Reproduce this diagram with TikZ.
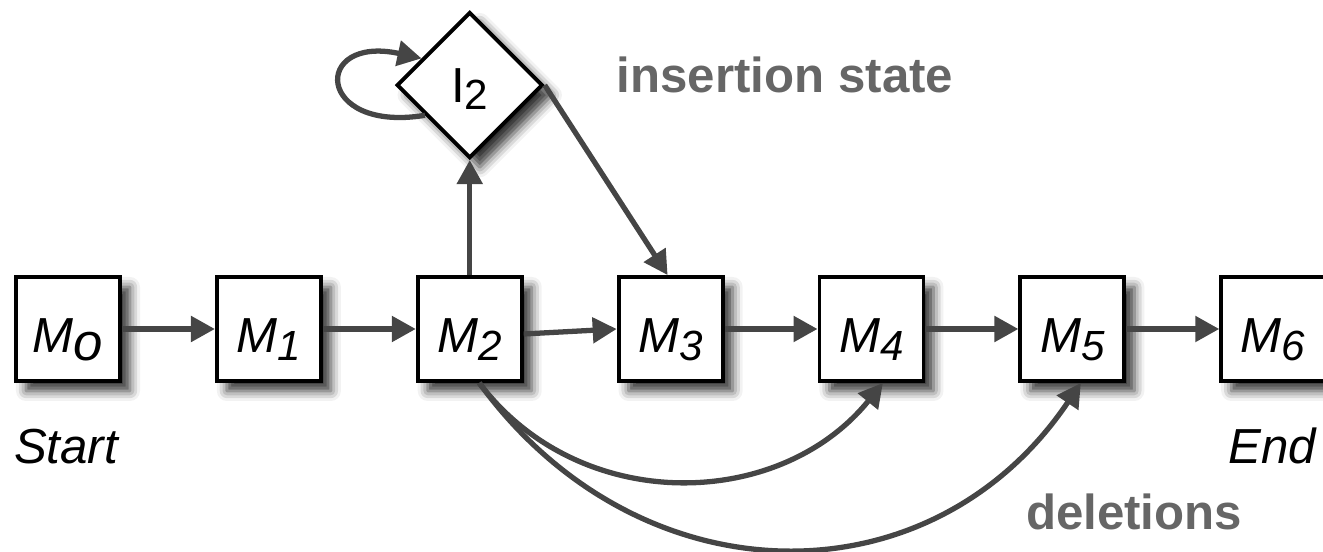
\documentclass[tikz,border=0pt]{standalone}
\usepackage{fontspec}
\setmainfont{Liberation Sans}
\usepackage{xcolor}
\usetikzlibrary{positioning}
\usetikzlibrary{shapes.geometric, arrows.meta}
\usetikzlibrary{shadows.blur}
\definecolor{arrowgray}{HTML}{454545}
\definecolor{labelgray}{HTML}{666666}
\tikzstyle{line} = [draw=arrowgray, line width=1.5pt, -{Triangle[length=2.4mm,width=2.5mm]}]
\tikzstyle{boxshadow} = [blur shadow={shadow xshift=1mm, shadow yshift=-1mm, shadow blur radius=1mm, shadow opacity=80}]
\tikzstyle{state} = [draw, line width=1.1pt, fill=white, minimum width=10.4mm, minimum height=10.4mm, inner sep=0pt, text height=5.5mm, text depth=0.7mm, font=\fontsize{14}{16}\selectfont\itshape, boxshadow]
\tikzstyle{note} = [font=\fontsize{14}{16}\selectfont\bfseries, text=labelgray, anchor=base]
\tikzstyle{tag} = [font=\fontsize{14}{16}\selectfont\itshape, anchor=base]
\newcommand{\lowsub}[2][12]{\raisebox{-2pt}{\fontsize{#1}{#1}\selectfont #2}}

\begin{document}
\begin{tikzpicture}[node distance=9.3mm]
			\useasboundingbox (0,0) rectangle (13.23,5.52);
			\node[state] at (0.68,2.23) (M0) {M\lowsub[15]{o}};
			\node[state, right=of M0] (M1) {M\lowsub{1}};
			\node[state, right=of M1] (M2) {M\lowsub{2}};
			\node[state, right=of M2] (M3) {M\lowsub{3}};
			\node[state, right=of M3] (M4) {M\lowsub{4}};
			\node[state, right=of M4] (M5) {M\lowsub{5}};
			\node[state, right=of M5] (M6) {M\lowsub{6}};
			
			\node[diamond, aspect=1, draw, line width=1.1pt, fill=white, minimum width=14.6mm, minimum height=14.6mm, inner sep=0pt, text height=4.1mm, text depth=0.7mm, font=\fontsize{14}{16}\selectfont, boxshadow, above=11.5mm of M2] (I2) {I\lowsub{2}};
			
			\node[note] at (7.85,4.59) (ins) {insertion state};
			\node[note] at (11.34,0.22) (del) {deletions};
			\node[tag] at (0.66,0.88) (start) {Start};
			\node[tag] at (12.72,0.88) (end) {End};
			
			\draw[line] (M0) -- (M1);
			\draw[line] (M1) -- (M2);
			\draw[line] ([yshift=-0.5mm]M2.east) -- (M3.west);
			\draw[line] (M3) -- (M4);
			\draw[line] (M4) -- (M5);
			\draw[line] (M5) -- (M6);
			
			\draw[line] (M2) -- (I2);
			\draw[line] (I2.east) -- ([xshift=-0.3mm]M3.north);
			\draw[line] (I2.214) .. controls +(-1.1,-0.18) and +(-1.1,0.24) .. (I2.151);
			
			\draw[line] (M2.-80) to[out=-53, in=-129, looseness=1.05] (M4.-78);
			\draw[line] (M2.-80) to[out=-54, in=-124, looseness=1.15] (M5.-81);
			
		\end{tikzpicture}
\end{document}
